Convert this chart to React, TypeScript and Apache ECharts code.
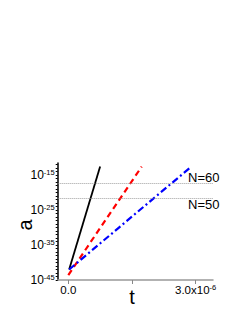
import React, { useEffect, useRef } from "react";
import * as echarts from "echarts";

// time values (s) and log10(a) values for each curve
const blackT = [0.02e-6, 0.75e-6];
const blackLogA = [-42.0, -12.6];
const redT = [0.0, 1.73e-6];
const redLogA = [-43.6, -12.6];
const blueT = [0.02e-6, 2.9e-6];
const blueLogA = [-42.0, -12.6];

// thresholds (log10 a)
const thresholdN60 = -17.4;
const thresholdN50 = -21.7;

const yLabelExps = [-45, -35, -25, -15];
const xTickValues = [0, 1.5e-6, 3.0e-6];

const pairs = (xs: number[], ys: number[]) => xs.map((x, i) => [x, ys[i]]);

export default function App() {
  const ref = useRef<HTMLDivElement>(null);
  useEffect(() => {
    if (!ref.current) return;
    const chart = echarts.init(ref.current, undefined, { renderer: "svg" });
    const yMinorTicks: number[] = [];
    for (let v = -45; v <= -12; v++) yMinorTicks.push(v);
    const font = "Liberation Sans";
    chart.setOption({
      animation: false,
      grid: { left: 57.7, right: 35, top: 163, bottom: 40 },
      xAxis: {
        type: "value",
        min: -0.25e-6,
        max: 3.41e-6,
        splitLine: { show: false },
        axisLine: { show: true, onZero: false, lineStyle: { color: "#999", width: 1.5 } },
        axisTick: { show: true, customValues: xTickValues, length: 4, lineStyle: { color: "#888" } },
        axisLabel: {
          customValues: [0, 3.0e-6],
          margin: 3,
          formatter: (v: number) => (v === 0 ? "{b|0.0}" : "{b|3.0x10}{s|-6}"),
          rich: {
            b: { fontFamily: font, fontSize: 11.5, color: "#000", lineHeight: 14 },
            s: { fontFamily: font, fontSize: 7.5, color: "#000", verticalAlign: "top", lineHeight: 14 },
          },
        },
      },
      yAxis: {
        type: "value",
        min: -45,
        max: -11.57,
        splitLine: { show: false },
        axisLine: { show: true, onZero: false, lineStyle: { color: "#000", width: 1.5 } },
        axisTick: { show: true, customValues: yMinorTicks, length: 2, lineStyle: { color: "#000" } },
        axisLabel: {
          customValues: yLabelExps,
          margin: 3,
          formatter: (v: number) => `{b|10}{s|${v}}`,
          rich: {
            b: { fontFamily: font, fontSize: 12, color: "#000", lineHeight: 14 },
            s: { fontFamily: font, fontSize: 7.5, color: "#000", verticalAlign: "top", lineHeight: 14 },
          },
        },
      },
      graphic: [
        {
          type: "text",
          x: 25,
          y: 225,
          rotation: Math.PI / 2,
          style: { text: "a", font: `20px '${font}'`, fill: "#000", align: "center", verticalAlign: "middle" },
        },
        {
          type: "text",
          x: 132,
          y: 297,
          style: { text: "t", font: `20px '${font}'`, fill: "#000", align: "center", verticalAlign: "middle" },
        },
        {
          type: "text",
          x: 188,
          y: 177,
          style: { text: "N=60", font: `13px '${font}'`, fill: "#000", align: "left", verticalAlign: "middle" },
        },
        {
          type: "text",
          x: 188,
          y: 204,
          style: { text: "N=50", font: `13px '${font}'`, fill: "#000", align: "left", verticalAlign: "middle" },
        },
      ],
      series: [
        {
          type: "line",
          data: pairs(blackT, blackLogA),
          showSymbol: false,
          lineStyle: { color: "#000", width: 1.8, type: "solid" },
          markLine: {
            silent: true,
            symbol: "none",
            label: { show: false },
            lineStyle: { color: "#888", width: 0.8, type: [1, 1] },
            data: [{ yAxis: thresholdN60 }, { yAxis: thresholdN50 }],
          },
        },
        {
          type: "line",
          data: pairs(redT, redLogA),
          showSymbol: false,
          lineStyle: { color: "#ff0000", width: 2.2, type: [6, 4] },
        },
        {
          type: "line",
          data: pairs(blueT, blueLogA),
          showSymbol: false,
          lineStyle: { color: "#0000ff", width: 2.2, type: [7, 3, 2, 3] },
        },
      ],
    });
    return () => chart.dispose();
  }, []);
  return (
    <div
      ref={ref}
      style={{ position: "fixed", left: 0, top: 0, width: 248, height: 320, background: "#fff" }}
    />
  );
}
